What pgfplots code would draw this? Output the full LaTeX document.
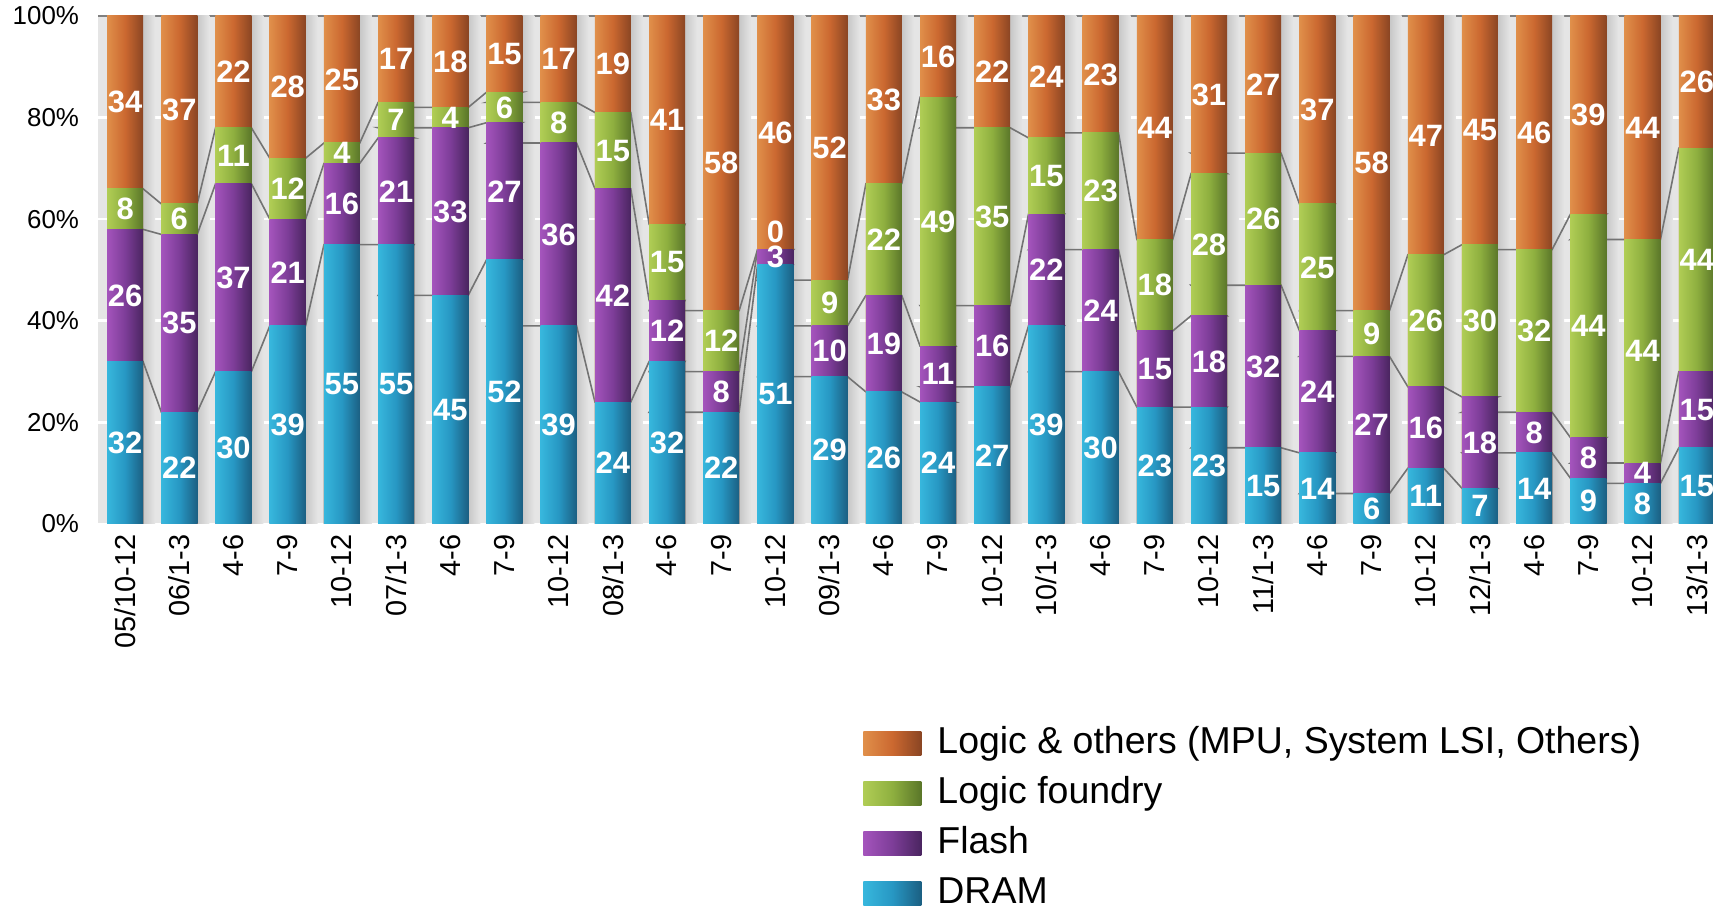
\documentclass[border=0pt]{standalone}
\usepackage{fontspec}
\setmainfont{Liberation Sans}
\usepackage{pgfplots}
\usepackage{pgfplotstable}
\pgfplotsset{compat=1.18}

\definecolor{dramL}{HTML}{37B7DD}
\definecolor{dramM}{HTML}{2797C3}
\definecolor{dramR}{HTML}{1B5F82}
\definecolor{flashL}{HTML}{A454BC}
\definecolor{flashM}{HTML}{7D3D98}
\definecolor{flashR}{HTML}{4A2560}
\definecolor{foundL}{HTML}{B0CD55}
\definecolor{foundM}{HTML}{8EAF3F}
\definecolor{foundR}{HTML}{5A7629}
\definecolor{logL}{HTML}{E08F4A}
\definecolor{logM}{HTML}{CB6830}
\definecolor{logR}{HTML}{8A4523}

% lofs: small upward offset of the label of a zero-height segment
\pgfplotstableread{
x dram flash found logic lofs
0 32 26 8 34 0
1 22 35 6 37 0
2 30 37 11 22 0
3 39 21 12 28 0
4 55 16 4 25 0
5 55 21 7 17 0
6 45 33 4 18 0
7 52 27 6 15 0
8 39 36 8 17 0
9 24 42 15 19 0
10 32 12 15 41 0
11 22 8 12 58 0
12 51 3 0 46 3.5
13 29 10 9 52 0
14 26 19 22 33 0
15 24 11 49 16 0
16 27 16 35 22 0
17 39 22 15 24 0
18 30 24 23 23 0
19 23 15 18 44 0
20 23 18 28 31 0
21 15 32 26 27 0
22 14 24 25 37 0
23 6 27 9 58 0
24 11 16 26 47 0
25 7 18 30 45 0
26 14 8 32 46 0
27 9 8 44 39 0
28 8 4 44 44 0
29 15 15 44 26 0
}\data

\pgfplotstableread{
c1 c2 c3
32 58 66
32 58 66
22 57 63
22 57 63
30 67 78
30 67 78
39 60 72
39 60 72
55 71 75
55 71 75
55 76 83
55 76 83
45 78 82
45 78 82
52 79 85
52 79 85
39 75 83
39 75 83
24 66 81
24 66 81
32 44 59
32 44 59
22 30 42
22 30 42
51 54 54
51 54 54
29 39 48
29 39 48
26 45 67
26 45 67
24 35 84
24 35 84
27 43 78
27 43 78
39 61 76
39 61 76
30 54 77
30 54 77
23 38 56
23 38 56
23 41 69
23 41 69
15 47 73
15 47 73
14 38 63
14 38 63
6 33 42
6 33 42
11 27 53
11 27 53
7 25 55
7 25 55
14 22 54
14 22 54
9 17 61
9 17 61
8 12 56
8 12 56
15 30 74
15 30 74
}\serdata

\pgfplotsset{
  mybar/.style={ybar, bar width=18bp, bar shift=0pt, draw=none,
    legend image code/.code={\path[##1,draw=none] (0bp,-6bp) rectangle (29bp,6bp); \path (37bp,0bp);}},
  serline/.style={forget plot, black!55, line width=0.8bp, mark=none},
  lbl/.style={forget plot, draw=none, mark=none, nodes near coords, point meta=explicit,
    every node near coord/.append style={white, anchor=center, inner sep=0pt,
      font=\bfseries\fontsize{15.5}{15.5}\selectfont}},
}

\begin{document}
\begin{tikzpicture}
\begin{axis}[
  at={(49bp,192bp)}, anchor=south west,
  scale only axis, width=807.5bp, height=254bp,
  xmin=-0.5, xmax=29.3, ymin=0, ymax=100,
  axis line style={draw=none},
  axis background/.style={fill=black!10},
  ytick={0,20,...,100},
  /pgf/number format/assume math mode=true,
  yticklabel={\pgfmathprintnumber{\tick}\%},
  yticklabel style={font=\fontsize{13}{13}\selectfont, xshift=-6bp},
  ymajorgrids, grid style={white, line width=1.3bp},
  extra y ticks={100}, extra y tick labels={},
  extra y tick style={grid style={black!50, line width=1bp}},
  major tick length=0pt,
  xtick={0,...,29},
  xticklabels={05/10-12,06/1-3,4-6,7-9,10-12,07/1-3,4-6,7-9,10-12,08/1-3,4-6,7-9,10-12,09/1-3,4-6,7-9,10-12,10/1-3,4-6,7-9,10-12,11/1-3,4-6,7-9,10-12,12/1-3,4-6,7-9,10-12,13/1-3},
  xticklabel style={rotate=90, anchor=east, font=\fontsize{14.5}{14.5}\selectfont, inner ysep=0pt, inner xsep=5bp},
  legend style={draw=none, fill=none, at={(axis description cs:0.4737,-0.398)}, anchor=north west,
    font=\fontsize{18.8}{18.8}\selectfont, row sep=8bp, inner sep=0pt,
    nodes={inner sep=0pt, text height=13.5bp, text depth=3.5bp}},
  legend cell align=left,
]
% soft shadows to the right of the bars
\pgfplotsinvokeforeach{0,...,29}{
  \addplot[forget plot, ybar, bar width=6bp, bar shift=12bp, draw=none, left color=black!22, right color=black!10,
    restrict x to domain=#1:#1] table[x=x, y expr=100] {\data};
}
% series lines (segment boundaries, at the bar edges)
\addplot[serline] table[x expr={floor(\coordindex/2)+0.66*mod(\coordindex,2)-0.33}, y=c1] {\serdata};
\addplot[serline] table[x expr={floor(\coordindex/2)+0.66*mod(\coordindex,2)-0.33}, y=c2] {\serdata};
\addplot[serline] table[x expr={floor(\coordindex/2)+0.66*mod(\coordindex,2)-0.33}, y=c3] {\serdata};
% bars, one path per bar so that each bar has its own shading
\pgfplotsinvokeforeach{0,...,29}{
  \addplot[mybar, forget plot, left color=logL, right color=logR, middle color=logM, restrict x to domain=#1:#1]
    table[x=x, y expr=\thisrow{dram}+\thisrow{flash}+\thisrow{found}+\thisrow{logic}] {\data};
  \addplot[mybar, forget plot, left color=foundL, right color=foundR, middle color=foundM, restrict x to domain=#1:#1]
    table[x=x, y expr=\thisrow{dram}+\thisrow{flash}+\thisrow{found}] {\data};
  \addplot[mybar, forget plot, left color=flashL, right color=flashR, middle color=flashM, restrict x to domain=#1:#1]
    table[x=x, y expr=\thisrow{dram}+\thisrow{flash}] {\data};
  \addplot[mybar, forget plot, left color=dramL, right color=dramR, middle color=dramM, restrict x to domain=#1:#1]
    table[x=x, y=dram] {\data};
}
\addlegendimage{mybar, left color=logL, right color=logR, middle color=logM}
\addlegendentry{Logic \& others (MPU, System LSI, Others)}
\addlegendimage{mybar, left color=foundL, right color=foundR, middle color=foundM}
\addlegendentry{Logic foundry}
\addlegendimage{mybar, left color=flashL, right color=flashR, middle color=flashM}
\addlegendentry{Flash}
\addlegendimage{mybar, left color=dramL, right color=dramR, middle color=dramM}
\addlegendentry{DRAM}
% labels
\addplot[lbl] table[x=x, y expr=\thisrow{dram}/2, meta=dram] {\data};
\addplot[lbl] table[x=x, y expr=\thisrow{dram}+\thisrow{flash}/2, meta=flash] {\data};
\addplot[lbl] table[x=x, y expr=\thisrow{dram}+\thisrow{flash}+\thisrow{found}/2+\thisrow{lofs}, meta=found] {\data};
\addplot[lbl] table[x=x, y expr=100-\thisrow{logic}/2, meta=logic] {\data};
\end{axis}
\pgfresetboundingbox
\useasboundingbox (0,0) rectangle (856.5bp,454bp);
\end{tikzpicture}
\end{document}
